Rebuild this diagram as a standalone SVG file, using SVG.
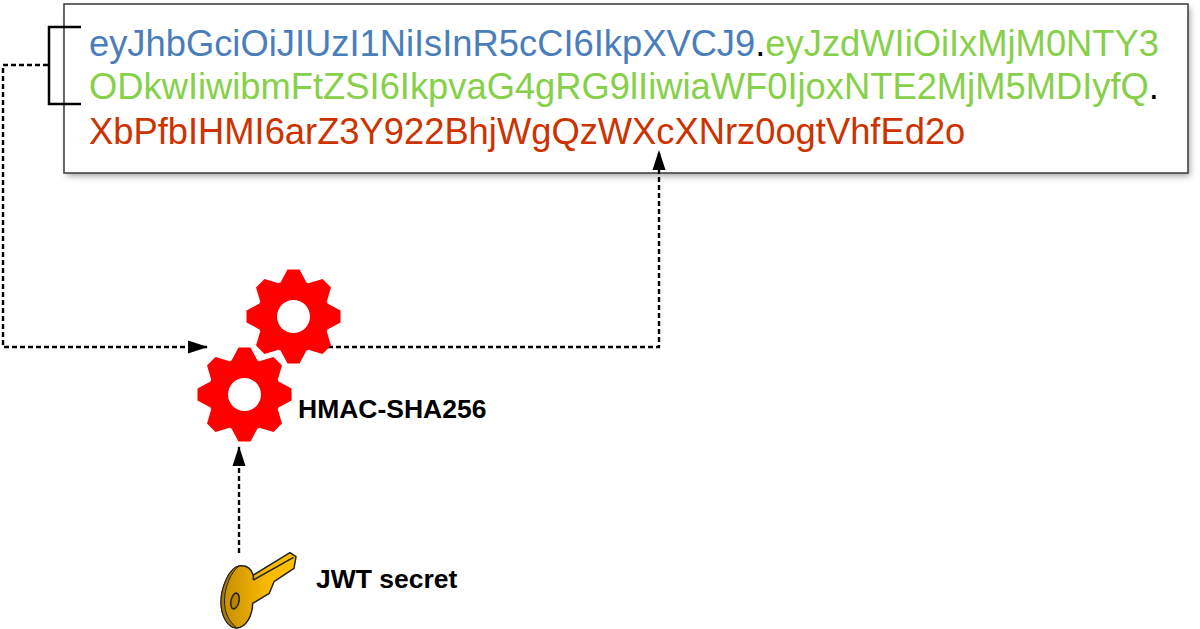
<svg xmlns="http://www.w3.org/2000/svg" width="1200" height="629" viewBox="0 0 1200 629">
<style>
.t{font-family:"Liberation Sans",Arial,sans-serif;font-size:36.35px}
.b{fill:#4a7ebb}.g{fill:#86d04a}.r{fill:#cc3300}.k{fill:#000}
.l{font-family:"Liberation Sans",Arial,sans-serif;font-size:26.5px;font-weight:bold;fill:#000}
.d{fill:none;stroke:#000;stroke-width:2.4;stroke-dasharray:5 3}
.s{fill:none;stroke:#000;stroke-width:2.5}
</style>
<defs>
<filter id="sh" x="-5%" y="-20%" width="110%" height="140%"><feGaussianBlur stdDeviation="3"/></filter>
<marker id="a" markerWidth="20" markerHeight="14" refX="19" refY="7" orient="auto" markerUnits="userSpaceOnUse"><path d="M0 0.5L20 7L0 13.5Z" fill="#000"/></marker>
<polygon id="tooth" points="-6,-47 6,-47 13,-34 -13,-34" fill="#ff0000"/>
<g id="gear">
<circle r="36.5" fill="#ff0000"/>
<use href="#tooth"/><use href="#tooth" transform="rotate(45)"/><use href="#tooth" transform="rotate(90)"/><use href="#tooth" transform="rotate(135)"/><use href="#tooth" transform="rotate(180)"/><use href="#tooth" transform="rotate(225)"/><use href="#tooth" transform="rotate(270)"/><use href="#tooth" transform="rotate(315)"/>
<circle r="16.5" fill="#fff"/>
</g>
<linearGradient id="kg" x1="0" y1="0" x2="1" y2="0"><stop offset="0" stop-color="#c48c00"/><stop offset="0.65" stop-color="#fbbc00"/><stop offset="1" stop-color="#ffc000"/></linearGradient>
</defs>
<g id="token">
<rect x="67" y="8" width="1123" height="168" fill="#555" opacity=".55" filter="url(#sh)"/>
<rect x="64" y="4" width="1124" height="169" fill="#fff" stroke="#444" stroke-width="1.6"/>
<text class="t" y="56"><tspan x="89" class="b">eyJhbGciOiJIUzI1NiIsInR5cCI6IkpXVCJ9</tspan><tspan class="k">.</tspan><tspan class="g">eyJzdWIiOiIxMjM0NTY3</tspan></text>
<text class="t g" x="89" y="99">ODkwIiwibmFtZSI6IkpvaG4gRG9lIiwiaWF0IjoxNTE2MjM5MDIyfQ<tspan class="k">.</tspan></text>
<text class="t r" x="89" y="144">XbPfbIHMI6arZ3Y922BhjWgQzWXcXNrz0ogtVhfEd2o</text>
</g>
<g id="connectors">
<path class="s" d="M81 27H49V104H81"/>
<path class="d" d="M48 65H3V347H207" marker-end="url(#a)"/>
<path class="d" d="M328 347H659V151" marker-end="url(#a)"/>
<path class="d" d="M239 553V447" marker-end="url(#a)"/>
</g>
<g id="gear-top"><use href="#gear" x="293.5" y="316.5"/></g>
<g id="gear-bottom"><use href="#gear" x="244.5" y="394.5"/></g>
<g id="hmac"><text class="l" x="298" y="418">HMAC-SHA256</text></g>
<g id="key">
<path d="M253.3 575L290 552.7L296 556.7L294 568.3L274 581.7L269.3 593.3L252.7 603.3C252.5 616 246 627 237 628C228 628 221 616 221 602C221 588 229 568 239 566C246 565 251 568 253.3 575Z" fill="url(#kg)" stroke="#222" stroke-width="1.5" stroke-linejoin="round"/>
<path d="M253.5 580L293.5 557.3M253.3 575V580" stroke="#222" stroke-width="1.5" fill="none"/>
<path d="M239 566C229 568 221 588 221 602C221 616 228 628 237 628C229 622 224 612 224.500 600C225 586 231 572 239 566Z" fill="#a87800" stroke="#222" stroke-width="1"/>
<ellipse cx="235" cy="601" rx="4" ry="8" transform="rotate(12 235 601)" fill="#b88400" stroke="#222" stroke-width="1.5"/>
</g>
<g id="jwt"><text class="l" x="316" y="588">JWT secret</text></g>
</svg>
